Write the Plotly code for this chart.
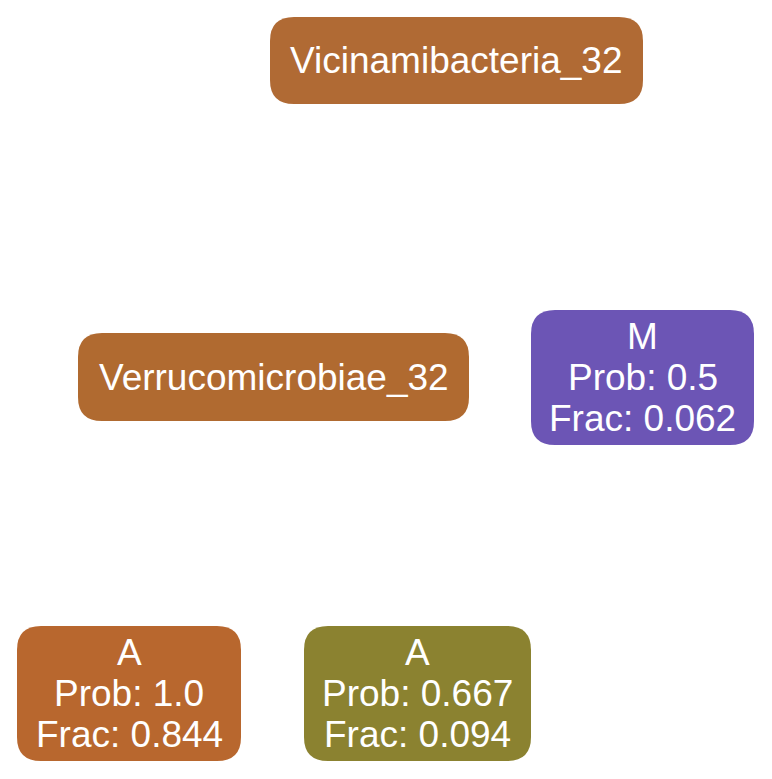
import plotly.graph_objects as go

# Node data
node_ids = ["vic", "ver", "m", "a1", "a2"]
node_labels = [
    "Vicinamibacteria_32",
    "Verrucomicrobiae_32",
    "M\nProb: 0.5\nFrac: 0.062",
    "A\nProb: 1.0\nFrac: 0.844",
    "A\nProb: 0.667\nFrac: 0.094",
]
node_colors = ["#B06A34", "#B06A30", "#6C55B5", "#B8672E", "#8B8230"]

# Layout (pixel positions of node boxes: x0, y0, x1, y1)
layout_boxes = {
    "vic": (270, 17, 643, 104),
    "ver": (78, 333, 469, 421),
    "m": (531, 310, 754, 445),
    "a1": (17, 626, 241, 761),
    "a2": (304, 626, 531, 761),
}

W, H = 772, 779
OFF = 8  # page body margin compensation
R = 24
LINE = 41
FONT = dict(family="Liberation Sans, Arial, Helvetica, sans-serif", size=37, color="white")


def rounded(x0, y0, x1, y1, r):
    return (f"M {x0+r},{y0} L {x1-r},{y0} Q {x1},{y0} {x1},{y0+r} "
            f"L {x1},{y1-r} Q {x1},{y1} {x1-r},{y1} L {x0+r},{y1} "
            f"Q {x0},{y1} {x0},{y1-r} L {x0},{y0+r} Q {x0},{y0} {x0+r},{y0} Z")


fig = go.Figure()
fig.add_trace(go.Scatter(x=[OFF, W], y=[OFF, H], mode="markers",
                         marker=dict(opacity=0), hoverinfo="skip", showlegend=False))

shapes = []
annotations = []
for nid, lab, col in zip(node_ids, node_labels, node_colors):
    x0, y0, x1, y1 = layout_boxes[nid]
    shapes.append(dict(type="path", path=rounded(x0, y0, x1, y1, R), xref="x", yref="y",
                       fillcolor=col, line=dict(width=0), layer="below"))
    lines = lab.split("\n")
    cx = (x0 + x1) / 2
    cy = (y0 + y1) / 2
    n = len(lines)
    for i, t in enumerate(lines):
        yy = cy + (i - (n - 1) / 2) * LINE
        annotations.append(dict(x=cx, y=yy, xref="x", yref="y", text=t, showarrow=False,
                                font=FONT, xanchor="center", yanchor="middle"))

fig.update_layout(
    width=W, height=H,
    margin=dict(l=0, r=0, t=0, b=0),
    paper_bgcolor="white", plot_bgcolor="white",
    xaxis=dict(range=[OFF, W + OFF], visible=False, fixedrange=True),
    yaxis=dict(range=[H + OFF, OFF], visible=False, fixedrange=True),
    shapes=shapes, annotations=annotations,
    showlegend=False,
)
fig.write_html("out.html")
